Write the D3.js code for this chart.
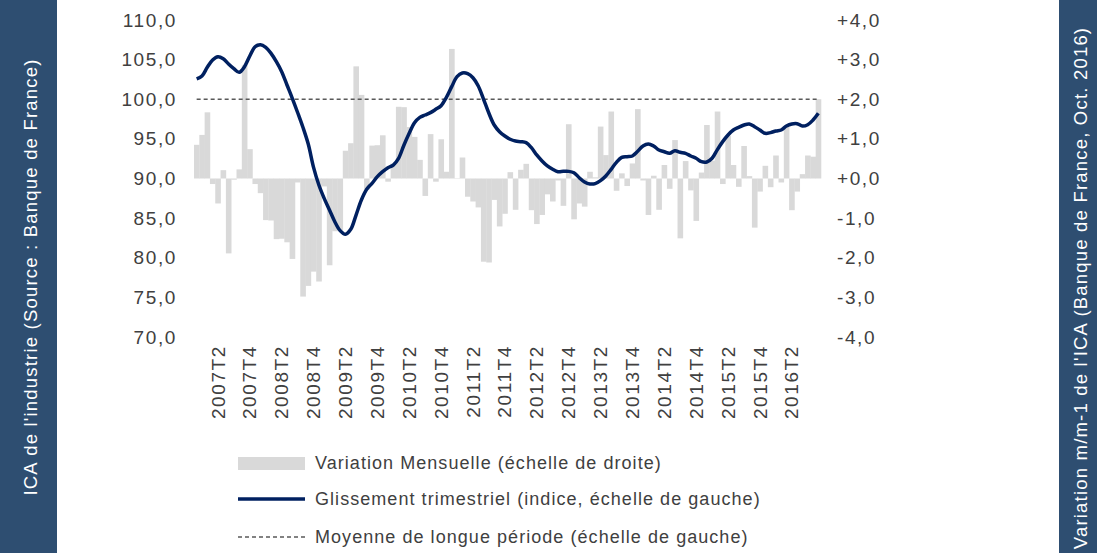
<!DOCTYPE html>
<html>
<head>
<meta charset="utf-8">
<script src="https://cdn.jsdelivr.net/npm/d3@7"></script>
<style>
  body { margin: 0; background: #fff; }
  text { font-family: "Liberation Sans", Arial, sans-serif; }
</style>
</head>
<body>
<svg id="chart" width="1097" height="553"></svg>
<script>
// monthly data, Jan 2007 -> Oct 2016
var variationMensuelle = [
  0.85, 1.10, 1.67, -0.14, -0.63, 0.21, -1.89, -0.03, 0.23, 2.86,
  0.74, -0.14, -0.37, -1.05, -1.06, -1.53, -1.52, -1.61, -2.03, -0.10,
  -2.98, -2.71, -2.35, -2.60, -0.20, -2.19, -1.33, -1.30, 0.70, 0.89,
  2.83, 2.11, -0.28, 0.83, 0.84, 1.09, -0.08, 0.38, 1.81, 1.80,
  1.30, 1.05, 0.47, -0.44, 1.12, -0.08, 0.99, 0.17, 3.27, -0.01,
  0.53, -0.46, -0.58, -0.73, -2.10, -2.12, -0.54, -1.21, -0.89, 0.16,
  -0.79, 0.22, 0.37, -0.80, -1.15, -0.92, -0.40, -0.58, -0.05, -0.69,
  1.37, -1.03, -0.63, -0.71, 0.17, 0.03, 1.31, 0.59, 1.69, -0.31,
  0.13, -0.19, 0.38, 1.75, -0.05, -0.92, 0.07, -0.79, 0.34, -0.26,
  0.97, -1.51, 0.44, -0.30, -1.07, 0.15, 1.35, 0.45, 1.69, -0.14,
  1.08, 0.34, -0.21, 0.82, 0.06, -1.24, -0.33, 0.32, -0.22, 0.58,
  -0.10, 1.30, -0.80, -0.33, 0.11, 0.58, 0.55, 2.00
];

var glissementTrimestriel = [
  102.56, 102.93, 104.03, 104.95, 105.37, 105.12, 104.45, 103.86, 103.40, 104.11,
  105.46, 106.63, 106.89, 106.55, 105.79, 104.74, 103.48, 101.80, 100.12, 98.33,
  96.46, 94.35, 91.41, 89.18, 87.50, 86.03, 84.55, 83.42, 82.96, 83.59,
  85.39, 87.29, 88.64, 89.39, 90.23, 90.86, 91.37, 91.70, 92.55, 94.20,
  95.70, 97.04, 97.72, 98.01, 98.31, 98.73, 99.19, 100.24, 101.59, 102.85,
  103.31, 103.23, 102.72, 101.67, 99.99, 98.23, 96.75, 95.91, 95.36, 94.95,
  94.73, 94.65, 94.52, 93.89, 92.97, 92.21, 91.58, 91.16, 90.86, 90.90,
  90.90, 90.73, 90.10, 89.56, 89.31, 89.35, 89.73, 90.32, 91.15, 92.04,
  92.67, 92.75, 92.84, 93.43, 94.10, 94.35, 94.10, 93.60, 93.38, 93.18,
  93.51, 93.31, 93.18, 92.84, 92.55, 92.12, 92.08, 92.55, 93.65, 94.65,
  95.49, 96.12, 96.46, 96.75, 96.88, 96.54, 96.12, 95.70, 95.79, 96.00,
  96.12, 96.62, 96.88, 96.92, 96.62, 96.79, 97.38, 98.23
];

var moyenneLonguePeriode = 100;

var xLabels = [
  "2007T2", "2007T4", "2008T2", "2008T4", "2009T2", "2009T4", "2010T2",
  "2010T4", "2011T2", "2011T4", "2012T2", "2012T4", "2013T2", "2013T4",
  "2014T2", "2014T4", "2015T2", "2015T4", "2016T2"
];
var leftTicks = [70, 75, 80, 85, 90, 95, 100, 105, 110];
var rightTicks = [-4, -3, -2, -1, 0, 1, 2, 3, 4];

var legendLabels = [
  "Variation Mensuelle (échelle de droite)",
  "Glissement trimestriel (indice, échelle de gauche)",
  "Moyenne de longue période (échelle de gauche)"
];
var leftTitle = "ICA de l'industrie (Source : Banque de France)";
var rightTitle = "Variation m/m-1 de l'ICA (Banque de France, Oct. 2016)";

drawChart();

function drawChart() {
  var width = 1097;
  var height = 553;
  var plotLeft = 194;
  var plotRight = 821;
  var plotTop = 20;
  var plotBottom = 337;
  var textColor = "#404040";
  var bandColor = "#2e4e71";

  var locale = d3.formatLocale({
    decimal: ",",
    thousands: " ",
    grouping: [3],
    currency: ["", "€"],
    minus: "-"
  });
  var fmtLeft = locale.format(".1f");
  var fmtRight = locale.format("+.1f");

  var months = d3.timeMonth.range(new Date(2007, 0, 1), new Date(2016, 10, 1));

  var svg = d3.select("#chart");

  var x = d3.scaleBand().domain(months).range([plotLeft, plotRight]).padding(0);
  var yL = d3.scaleLinear().domain([70, 110]).range([plotBottom, plotTop]);
  var yR = d3.scaleLinear().domain([-4, 4]).range([plotBottom, plotTop]);

  // side bands
  svg.append("rect").attr("x", 0).attr("y", 0).attr("width", 57).attr("height", height).attr("fill", bandColor);
  svg.append("rect").attr("x", 1059).attr("y", 0).attr("width", width - 1059).attr("height", height).attr("fill", bandColor);

  svg.append("text")
    .attr("transform", "translate(30," + 277 + ") rotate(-90)")
    .attr("text-anchor", "middle")
    .attr("dominant-baseline", "central")
    .attr("fill", "#fff")
    .style("font-size", "18.5px")
    .style("letter-spacing", "1.2px")
    .text(leftTitle);

  svg.append("text")
    .attr("transform", "translate(1080," + 288 + ") rotate(-90)")
    .attr("text-anchor", "middle")
    .attr("dominant-baseline", "central")
    .attr("fill", "#fff")
    .style("font-size", "18.5px")
    .style("letter-spacing", "1.2px")
    .text(rightTitle);

  // bars (right scale)
  svg.append("g")
    .selectAll("rect")
    .data(variationMensuelle)
    .enter()
    .append("rect")
    .attr("x", (d, i) => x(months[i]))
    .attr("width", x.bandwidth() + 0.3)
    .attr("y", (d) => Math.min(yR(d), yR(0)))
    .attr("height", (d) => Math.abs(yR(d) - yR(0)))
    .attr("fill", "#d9d9d9");

  // long-term average
  var avg = months.map(() => moyenneLonguePeriode);
  svg.append("path")
    .datum(avg)
    .attr("fill", "none")
    .attr("stroke", "#595959")
    .attr("stroke-width", 1.4)
    .attr("stroke-dasharray", "4,3")
    .attr("d", d3.line()
      .x((d, i) => x(months[i]) + x.bandwidth() / 2)
      .y((d) => yL(d)));

  // index line (left scale)
  svg.append("path")
    .datum(glissementTrimestriel)
    .attr("fill", "none")
    .attr("stroke", "#002060")
    .attr("stroke-width", 3.5)
    .attr("stroke-linejoin", "round")
    .attr("d", d3.line()
      .curve(d3.curveCatmullRom)
      .x((d, i) => x(months[i]) + x.bandwidth() / 2)
      .y((d) => yL(d)));

  // axes
  var axL = svg.append("g")
    .attr("transform", "translate(185,0)")
    .call(d3.axisLeft(yL).tickValues(leftTicks).tickSize(0).tickPadding(8).tickFormat(fmtLeft));
  var axR = svg.append("g")
    .attr("transform", "translate(829,0)")
    .call(d3.axisRight(yR).tickValues(rightTicks).tickSize(0).tickPadding(8).tickFormat(fmtRight));

  var tickMonths = months.filter((d, i) => i % 6 == 4);
  var axB = svg.append("g")
    .attr("transform", "translate(0," + (plotBottom + 6) + ")")
    .call(d3.axisBottom(x).tickValues(tickMonths).tickSize(0)
      .tickFormat((d, i) => xLabels[i]));
  axB.selectAll("text")
    .attr("transform", "rotate(-90)")
    .attr("text-anchor", "end")
    .attr("x", -2)
    .attr("y", 0)
    .attr("dy", "0.35em");

  [axL, axR, axB].forEach(function (ax) {
    ax.select(".domain").remove();
    ax.selectAll("text")
      .attr("fill", textColor)
      .style("font-family", "Liberation Sans, Arial, sans-serif")
      .style("font-size", "19px")
      .style("letter-spacing", "1.6px");
  });

  // legend
  var legend = svg.append("g").attr("transform", "translate(238,0)");
  var legY = [463, 499, 537];

  legend.append("rect").attr("x", 0).attr("y", legY[0] - 6).attr("width", 67).attr("height", 13).attr("fill", "#d9d9d9");
  legend.append("line").attr("x1", 0).attr("x2", 67).attr("y1", legY[1]).attr("y2", legY[1])
    .attr("stroke", "#002060").attr("stroke-width", 3.5);
  legend.append("line").attr("x1", 0).attr("x2", 67).attr("y1", legY[2]).attr("y2", legY[2])
    .attr("stroke", "#595959").attr("stroke-width", 1.4).attr("stroke-dasharray", "4,3");

  legend.selectAll("text.leg")
    .data(legendLabels)
    .enter()
    .append("text")
    .attr("class", "leg")
    .attr("x", 77)
    .attr("y", (d, i) => legY[i])
    .attr("dominant-baseline", "central")
    .attr("fill", textColor)
    .style("font-size", "18px")
    .style("letter-spacing", "1.05px")
    .text((d) => d);
}
</script>
</body>
</html>
